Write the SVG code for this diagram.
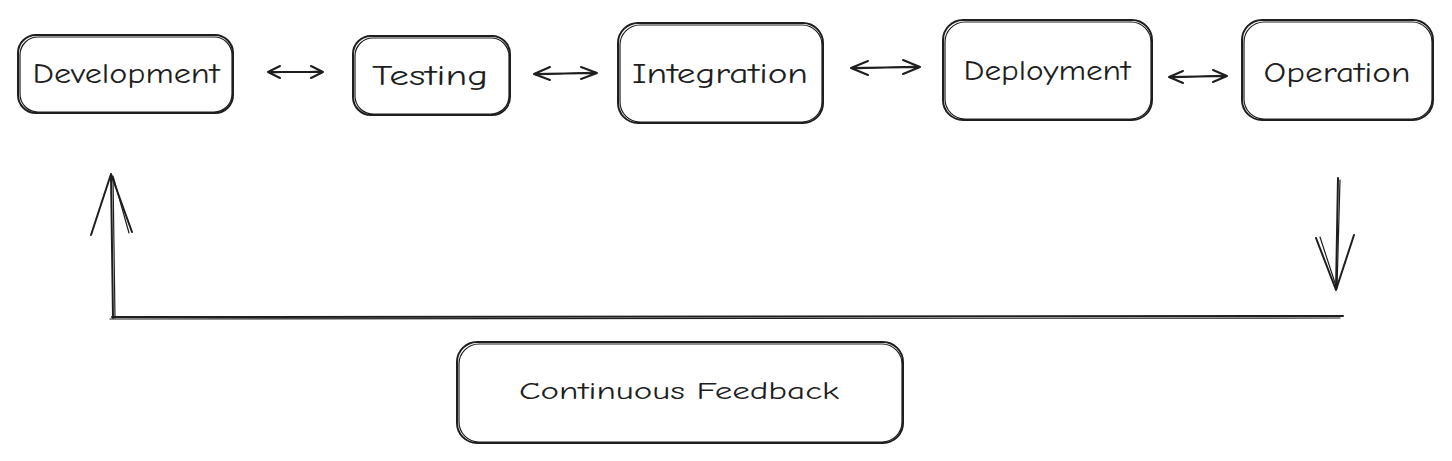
<svg xmlns="http://www.w3.org/2000/svg" width="1452" height="461" viewBox="0 0 1452 461">
<style>
.box{fill:#fff;stroke:#1e1e1e;stroke-width:2;stroke-linejoin:round}
.box2{fill:none;stroke:#1e1e1e;stroke-width:1.2}
.lbl{font-family:"Comic Neue","Lato","Liberation Sans",sans-serif;font-size:29px;fill:#1e1e1e;text-anchor:middle;dominant-baseline:central}
.lbls{font-family:"Comic Neue","Lato","Liberation Sans",sans-serif;font-size:25px;fill:#1e1e1e;text-anchor:middle;dominant-baseline:central}
.ln{fill:none;stroke:#1e1e1e;stroke-width:2;stroke-linecap:round;stroke-linejoin:round}
.ln2{fill:none;stroke:#1e1e1e;stroke-width:1.2;stroke-linecap:round}
</style>
<rect width="1452" height="461" fill="#fff"/>
<g id="development">
<rect class="box" x="18" y="35" width="215" height="78" rx="18"/>
<rect class="box2" x="20" y="37" width="212" height="75" rx="18"/>
<text class="lbl" x="126" y="73" textLength="187" lengthAdjust="spacingAndGlyphs">Development</text>
</g>
<g id="testing">
<rect class="box" x="353" y="36" width="157" height="79" rx="18"/>
<rect class="box2" x="355" y="38" width="154" height="76" rx="18"/>
<text class="lbl" x="430" y="75" textLength="116" lengthAdjust="spacingAndGlyphs">Testing</text>
</g>
<g id="integration">
<rect class="box" x="618" y="23" width="205" height="100" rx="20"/>
<rect class="box2" x="620" y="25" width="202" height="97" rx="20"/>
<text class="lbl" x="720" y="73" textLength="176" lengthAdjust="spacingAndGlyphs">Integration</text>
</g>
<g id="deployment">
<rect class="box" x="943" y="20" width="209" height="100" rx="20"/>
<rect class="box2" x="945" y="22" width="206" height="97" rx="20"/>
<text class="lbl" x="1047" y="70" textLength="167" lengthAdjust="spacingAndGlyphs">Deployment</text>
</g>
<g id="operation">
<rect class="box" x="1242" y="20" width="191" height="100" rx="20"/>
<rect class="box2" x="1244" y="22" width="188" height="97" rx="20"/>
<text class="lbl" x="1337" y="72" textLength="147" lengthAdjust="spacingAndGlyphs">Operation</text>
</g>
<g id="continuous-feedback">
<rect class="box" x="457" y="342" width="446" height="101" rx="20"/>
<rect class="box2" x="459" y="344" width="443" height="98" rx="20"/>
<text class="lbls" x="679" y="390" textLength="320" lengthAdjust="spacingAndGlyphs">Continuous Feedback</text>
</g>
<g id="connectors">
<path class="ln" d="M268 72 L323 72 M268 72 L280 66 M268 72 L280 78 M323 72 L311 66 M323 72 L311 78"/>
<path class="ln2" d="M270 73 L321 71"/>
<path class="ln" d="M534 74 L597 73 M534 74 L550 67 M534 74 L550 80 M597 73 L581 67 M597 73 L581 79"/>
<path class="ln2" d="M536 75 L595 72"/>
<path class="ln" d="M851 68 L920 67 M851 68 L868 61 M851 68 L868 75 M920 67 L903 60 M920 67 L903 74"/>
<path class="ln2" d="M853 69 L918 66"/>
<path class="ln" d="M1169 77 L1227 76 M1169 77 L1183 71 M1169 77 L1183 83 M1227 76 L1213 70 M1227 76 L1213 82"/>
<path class="ln2" d="M1171 78 L1225 75"/>
<path class="ln" d="M1338 178 L1336 290 M1336 290 L1316 238 M1336 290 L1354 235"/>
<path class="ln2" d="M1340 180 L1337 288 M1320 237 L1336 286"/>
<path class="ln" d="M1343 316 L112 317"/>
<path class="ln2" d="M1340 318 L110 319"/>
<path class="ln" d="M113 318 L111 174 M111 174 L91 235 M111 174 L132 232"/>
<path class="ln2" d="M115 318 L113 176 M113 176 L129 233"/>
</g>
</svg>
